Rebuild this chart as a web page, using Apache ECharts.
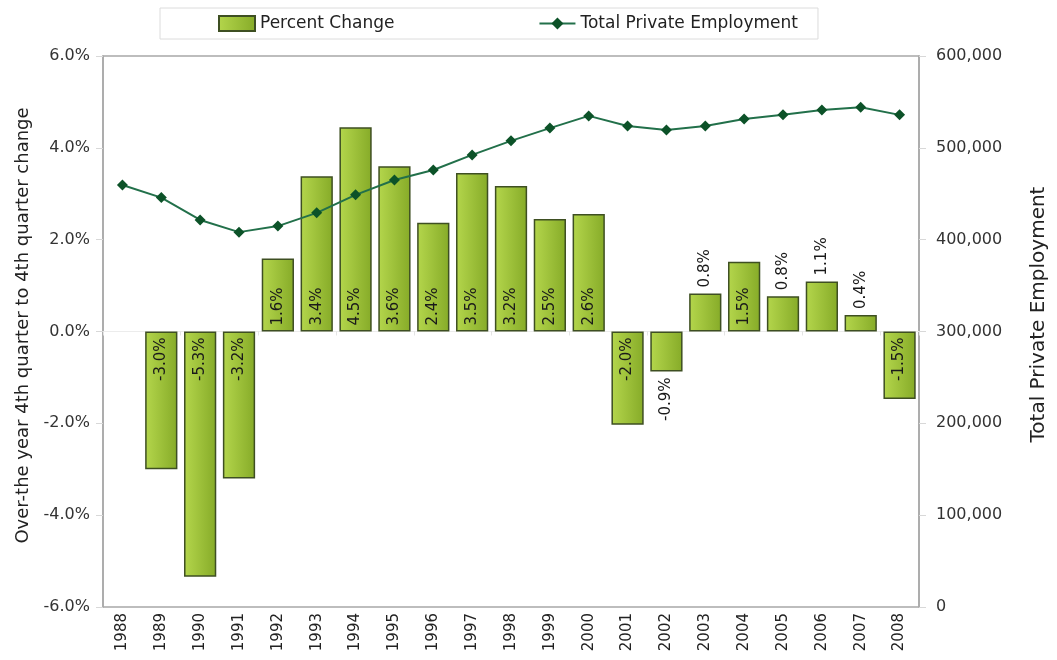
<!DOCTYPE html>
<html>
<head>
<meta charset="utf-8">
<script src="https://cdn.jsdelivr.net/npm/echarts@6/dist/echarts.min.js"></script>
<style>
    html, body { margin: 0; padding: 0; background: #fff; }
    #main { width: 1057px; height: 660px; }
</style>
</head>
<body>
<div id="main"></div>
<script>
var years = ['1988', '1989', '1990', '1991', '1992', '1993', '1994', '1995', '1996', '1997', '1998',
    '1999', '2000', '2001', '2002', '2003', '2004', '2005', '2006', '2007', '2008'];

// percent change, 4th quarter to 4th quarter (1988 has no bar)
var percentChange = [null, -3.0, -5.34, -3.2, 1.59, 3.38, 4.45, 3.6, 2.37, 3.45, 3.17,
    2.45, 2.56, -2.03, -0.87, 0.83, 1.52, 0.77, 1.09, 0.36, -1.47];

var totalPrivate = [459500, 445800, 421500, 408200, 414800, 429200, 448800, 465000, 475900, 492300, 507600,
    521500, 534800, 523800, 519400, 523800, 531500, 535900, 541300, 544300, 535900];

var leftTicks = { min: -6, max: 6, step: 2 };
var rightTicks = { min: 0, max: 600000, step: 100000 };

// labels sitting outside the bar end (bars too short for text)
var outsideLabel = { '0.83': 1, '0.77': 1, '1.09': 1, '0.36': 1, '-0.87': 1 };

var fontName = 'DejaVu Sans';

function barLabel(v) {
    if (v === null) return null;
    var lbl = {
        show: true,
        rotate: 90,
        verticalAlign: 'middle',
        distance: 6
    };
    var outside = outsideLabel[String(v)] === 1;
    if (v >= 0) {
        lbl.position = outside ? 'top' : 'insideBottom';
        lbl.align = 'left';
    } else {
        lbl.position = outside ? 'bottom' : 'insideTop';
        lbl.align = 'right';
    }
    return lbl;
}

var barData = percentChange.map(function (v) {
    if (v === null) return null;
    return { value: v, label: barLabel(v) };
});

var barColor = new echarts.graphic.LinearGradient(0, 0, 1, 0, [
    { offset: 0, color: '#b4d64c' },
    { offset: 1, color: '#86ab28' }
]);

var option = {
    animation: false,
    textStyle: { fontFamily: fontName },
    legend: {
        left: 160,
        top: 8,
        padding: [7, 20, 7, 58],
        itemGap: 144,
        itemWidth: 36,
        itemHeight: 15,
        borderColor: '#dcdcdc',
        borderWidth: 1,
        textStyle: { fontSize: 17, color: '#222', fontFamily: fontName },
        data: [
            { name: 'Percent Change', icon: 'rect' },
            { name: 'Total Private Employment' }
        ]
    },
    grid: {
        left: 103,
        right: 137,
        top: 56,
        bottom: 53,
        show: true,
        borderColor: '#a8a8a8',
        borderWidth: 1.5
    },
    xAxis: [
        {
            type: 'category',
            data: years,
            axisLine: { onZero: true, onZeroAxisIndex: 0, lineStyle: { color: '#ececec', width: 1 } },
            axisTick: { show: true, length: 4, lineStyle: { color: '#e4e4e4' } },
            axisLabel: { show: false }
        },
        {
            type: 'category',
            data: years,
            position: 'bottom',
            axisLine: { show: false },
            axisTick: { show: false },
            axisLabel: {
                rotate: 90,
                margin: 6,
                fontSize: 15,
                color: '#222',
                fontFamily: fontName
            }
        }
    ],
    yAxis: [
        {
            type: 'value',
            min: leftTicks.min,
            max: leftTicks.max,
            interval: leftTicks.step,
            name: 'Over-the year 4th quarter to 4th quarter change',
            nameLocation: 'middle',
            nameRotate: 90,
            nameGap: 68,
            nameTextStyle: { fontSize: 18, color: '#222', fontFamily: fontName, padding: [0, 0, 0, 12] },
            axisLine: { show: true, lineStyle: { color: '#a8a8a8', width: 1.5 } },
            axisTick: { show: true, length: 7, lineStyle: { color: '#d8d8d8' } },
            splitLine: { show: false },
            axisLabel: {
                margin: 13,
                fontSize: 16,
                color: '#333',
                formatter: function (v) { return v.toFixed(1) + '%'; }
            }
        },
        {
            type: 'value',
            min: rightTicks.min,
            max: rightTicks.max,
            interval: rightTicks.step,
            position: 'right',
            name: 'Total Private Employment',
            nameLocation: 'middle',
            nameRotate: 90,
            nameGap: 110,
            nameTextStyle: { fontSize: 20, color: '#222', fontFamily: fontName, padding: [0, 0, 0, 34] },
            axisLine: { show: true, lineStyle: { color: '#a8a8a8', width: 1.5 } },
            axisTick: { show: true, length: 7, lineStyle: { color: '#d8d8d8' } },
            splitLine: { show: false },
            axisLabel: {
                margin: 17,
                fontSize: 16,
                color: '#333',
                formatter: function (v) { return v === 0 ? '0' : echarts.format.addCommas(v); }
            }
        }
    ],
    series: [
        {
            name: 'Percent Change',
            type: 'bar',
            data: barData,
            xAxisIndex: 0,
            yAxisIndex: 0,
            barCategoryGap: '17%',
            itemStyle: {
                color: barColor,
                borderColor: '#3e4f22',
                borderWidth: 1.5
            },
            label: {
                show: true,
                fontSize: 15,
                color: '#1a1a1a',
                fontFamily: fontName,
                formatter: function (p) { return p.value.toFixed(1) + '%'; }
            },
            z: 2
        },
        {
            name: 'Total Private Employment',
            type: 'line',
            data: totalPrivate,
            xAxisIndex: 0,
            yAxisIndex: 1,
            symbol: 'diamond',
            symbolSize: 11,
            lineStyle: { color: '#22704a', width: 2 },
            itemStyle: { color: '#0c5228' },
            z: 3
        }
    ]
};

var chart = echarts.init(document.getElementById('main'));
chart.setOption(option);
</script>
</body>
</html>
